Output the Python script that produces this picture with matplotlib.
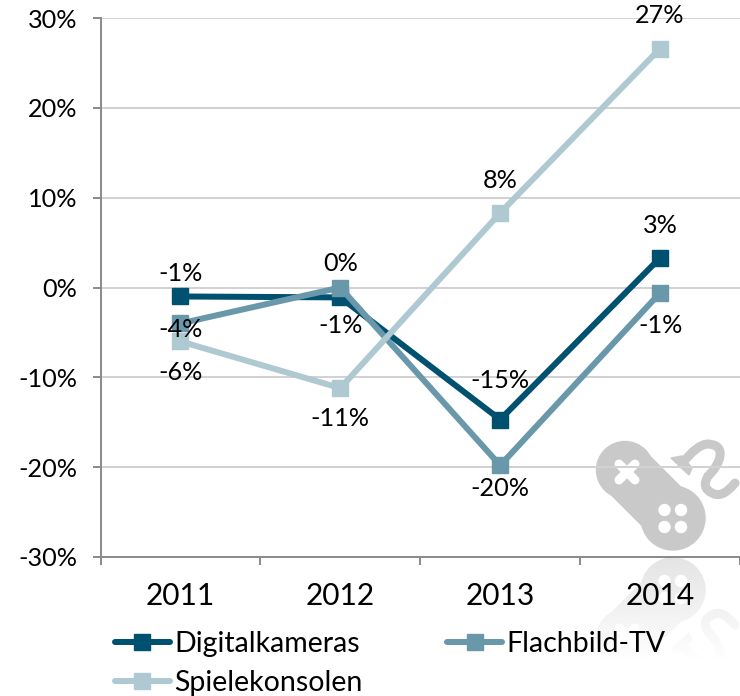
import matplotlib
matplotlib.use("Agg")
import matplotlib.pyplot as plt
import numpy as np
from matplotlib.patches import Circle, Polygon, PathPatch
from matplotlib.path import Path

plt.rcParams['font.family'] = ['Lato', 'DejaVu Sans']

years = ['2011', '2012', '2013', '2014']
digitalkameras = [-1.0, -1.1, -14.7, 3.3]
flachbild = [-4.0, 0.0, -19.8, -0.6]
spielekonsolen = [-6.0, -11.2, 8.3, 26.6]
series_names = ['Digitalkameras', 'Flachbild-TV', 'Spielekonsolen']
y_ticks = [-30, -20, -10, 0, 10, 20, 30]

colors = ['#00506F', '#6A98AB', '#AEC9D2']
label_offsets = [[23, -28, 39, 32], [-6, 24, -23, -33], [-31, -30, 32, 33]]

W, H = 740, 696
fig = plt.figure(figsize=(W / 100, H / 100), dpi=100, facecolor='white')
px = 72 / 100

# background layer in pixel coordinates for the watermark
bg = fig.add_axes([0, 0, 1, 1], zorder=-1)
bg.set_xlim(0, W)
bg.set_ylim(H, 0)
bg.axis('off')


def icon(mirror=None, color='#C9C9C9'):
    def Y(y):
        return y if mirror is None else 2 * mirror - y
    bg.plot([625, 673], [Y(470), Y(518)], color=color, lw=56 * px, solid_capstyle='round', zorder=1)
    bg.add_patch(Circle((625, Y(470)), 28.5, color=color, zorder=1))
    bg.add_patch(Circle((673, Y(518)), 32, color=color, zorder=1))
    bg.add_patch(Polygon([(671, Y(458)), (682, Y(456)), (692, Y(468)), (689, Y(475))],
                         closed=True, color=color, zorder=1))
    verts = [(682, Y(464)),
             (697, Y(444)), (708, Y(444)),
             (724, Y(445)), (719, Y(460)),
             (715, Y(470)), (708, Y(476)),
             (701, Y(488)), (712, Y(493)),
             (722, Y(499)), (735, Y(483))]
    codes = [Path.MOVETO] + [Path.CURVE3] * (len(verts) - 1)
    bg.add_patch(PathPatch(Path(verts, codes), fill=False, edgecolor=color, lw=9 * px,
                           capstyle='round', zorder=1))
    for bx in (664.5, 681):
        for by in (510, 527):
            bg.add_patch(Circle((bx, Y(by)), 5.5, color='white', zorder=2))
    for dx in (1, -1):
        bg.plot([627 - 8 * dx, 627 + 8 * dx], [Y(472 - 8), Y(472 + 8)], color='white',
                lw=9 * px, solid_capstyle='round', zorder=2)


icon()
icon(mirror=554)
grad = np.ones((128, 1, 4))
grad[..., 3] = np.linspace(0.5, 1.0, 128)[:, None]
bg.imshow(grad, extent=(590, 740, 660, 556), aspect='auto', zorder=3, interpolation='bilinear')
bg.fill_between([590, 740], 660, 696, color='white', zorder=3, lw=0)
bg.set_xlim(0, W)
bg.set_ylim(H, 0)

ax_l, ax_r, ax_t, ax_b = 100.5, 740, 18, 557
ax = fig.add_axes([ax_l / W, 1 - ax_b / H, (ax_r - ax_l) / W, (ax_b - ax_t) / H])
ax.patch.set_alpha(0)
ax.set_xlim(0, 4)
ax.set_ylim(-30, 30)

x = np.arange(len(years)) + 0.5
all_series = [digitalkameras, flachbild, spielekonsolen]
for vals, name, c in zip(all_series, series_names, colors):
    ax.plot(x, vals, color=c, lw=6 * px, marker='s', ms=16 * px, mec=c, label=name,
            solid_capstyle='round', solid_joinstyle='round', clip_on=False, zorder=3)

for vals, offs in zip(all_series, label_offsets):
    for xi, v, o in zip(x, vals, offs):
        ax.annotate(f"{round(v)}%", (xi, v), xytext=(0, o * px), textcoords='offset points',
                    ha='center', va='center', fontsize=18.2, color='black',
                    annotation_clip=False, zorder=5)

ax.set_yticks(y_ticks)
ax.set_yticklabels([f"{t}%" for t in y_ticks], fontsize=18.2)
ax.set_xticks(range(5))
ax.set_xticklabels([])
ax.set_xticks(x, minor=True)
ax.set_xticklabels(years, minor=True, fontsize=21.5)
ax.tick_params(axis='x', which='minor', length=0, pad=18)
ax.tick_params(axis='x', which='major', length=8 * px, width=2 * px, color='#8C8C8C')
ax.tick_params(axis='y', length=8 * px, width=2 * px, color='#8C8C8C', pad=11)
ax.grid(axis='y', color='#D2D2D2', lw=2 * px)
ax.set_axisbelow(True)
for s in ('top', 'right'):
    ax.spines[s].set_visible(False)
for s in ('left', 'bottom'):
    ax.spines[s].set_color('#8C8C8C')
    ax.spines[s].set_linewidth(2 * px)

handles, labels = ax.get_legend_handles_labels()
order = [0, 2, 1]
leg = fig.legend([handles[i] for i in order], [labels[i] for i in order], ncol=2, loc='upper left',
                 bbox_to_anchor=(115 / W, 1 - 631 / H), frameon=False, fontsize=20.5,
                 handlelength=1.93, handletextpad=0.14, columnspacing=2.99,
                 labelspacing=0.46, borderaxespad=0, borderpad=0)

fig.savefig('out.png', dpi=100, facecolor='white')
